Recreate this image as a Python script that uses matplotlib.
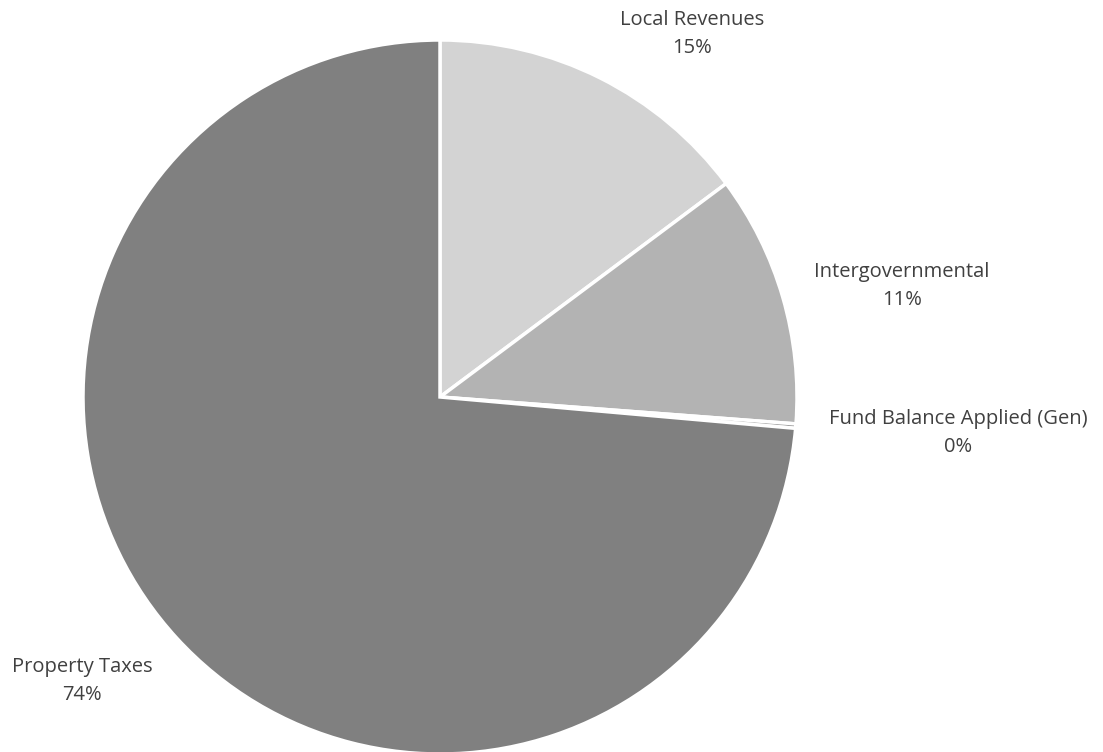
import matplotlib
matplotlib.use("Agg")
import matplotlib.pyplot as plt

categories = ["Local Revenues", "Intergovernmental", "Fund Balance Applied (Gen)", "Property Taxes"]
values = [14.8, 11.4, 0.2, 73.6]
pct_labels = ["15%", "11%", "0%", "74%"]
colors = ["#d3d3d3", "#b3b3b3", "#9a9a9a", "#808080"]

W, H = 1103, 752
cx, cy, R = 440, 397, 357

fig = plt.figure(figsize=(W / 100, H / 100), dpi=100)
ax = fig.add_axes([0, 0, 1, 1])
ax.pie(values, colors=colors, startangle=90, counterclock=False, radius=1,
       wedgeprops=dict(edgecolor="white", linewidth=2.5))
ax.set_xlim(-cx / R, (W - cx) / R)
ax.set_ylim(-(H - cy) / R, cy / R)
ax.set_aspect("equal")
ax.axis("off")

# label positions in pixel coords (center x, center y of two-line block)
label_pos = [(692, 34), (902, 286), (958, 433), (82, 681)]
for name, pct, (px, py) in zip(categories, pct_labels, label_pos):
    x = (px - cx) / R
    y = (cy - py) / R
    ax.text(x, y, f"{name}\n{pct}", ha="center", va="center", fontsize=14.5,
            family="Open Sans", color="#404040", linespacing=1.57)

fig.savefig("out.png", dpi=100)
